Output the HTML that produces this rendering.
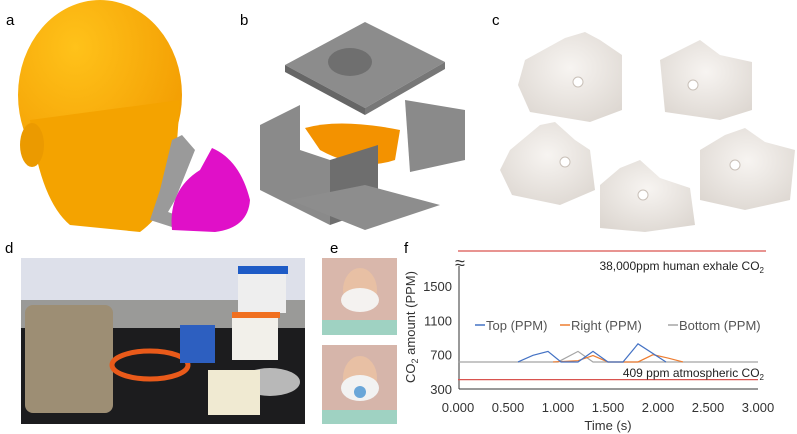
<!DOCTYPE html>
<html><head><meta charset="utf-8"><style>
html,body{margin:0;padding:0;background:#fff;width:797px;height:434px;overflow:hidden}
svg{display:block;font-family:"Liberation Sans",sans-serif}
</style></head><body>
<svg width="797" height="434" viewBox="0 0 797 434">
<defs>
<radialGradient id="hg" cx="0.35" cy="0.25" r="0.8"><stop offset="0" stop-color="#ffc21a"/><stop offset="1" stop-color="#f29a00"/></radialGradient>
<radialGradient id="mg" cx="0.5" cy="0.4" r="0.7"><stop offset="0" stop-color="#f7f4f1"/><stop offset="1" stop-color="#dcd6d0"/></radialGradient>
</defs>
<g>
<text x="6" y="25" font-size="15">a</text>
<ellipse cx="100" cy="95" rx="82" ry="95" fill="url(#hg)"/>
<path d="M30 120 Q40 200 70 225 L140 232 Q170 210 175 170 L180 100 Z" fill="#f4a300"/>
<ellipse cx="32" cy="145" rx="12" ry="22" fill="#eb9a00"/>
<path d="M172 140 L182 135 L195 150 L175 200 L168 212 L190 220 L175 228 L150 220 L160 190 Z" fill="#9a9a9a"/>
<path d="M212 148 Q240 160 250 200 Q248 228 215 232 L172 230 Q168 190 200 170 Z" fill="#e010c8"/>
</g>
<g>
<text x="240" y="25" font-size="15">b</text>
<polygon points="285,65 365,22 445,62 365,108" fill="#8c8c8c"/>
<polygon points="285,65 365,108 365,115 285,72" fill="#666"/><polygon points="365,108 445,62 445,69 365,115" fill="#777"/>
<ellipse cx="350" cy="62" rx="22" ry="14" fill="#6f6f6f"/>
<path d="M305 128 Q340 118 400 130 L395 160 Q360 172 320 150 Z" fill="#f39200"/>
<polygon points="260,125 300,105 300,150 330,160 330,225 260,190" fill="#8a8a8a"/>
<polygon points="330,160 378,145 378,208 330,225" fill="#6e6e6e"/>
<polygon points="405,100 465,110 465,160 410,172" fill="#8a8a8a"/>
<polygon points="290,200 365,185 440,205 365,230" fill="#8d8d8d"/>
</g>
<g>
<text x="492" y="25" font-size="15">c</text>
<g fill="url(#mg)">
<path d="M525 60 L565 38 L585 32 L600 40 L622 55 L622 110 L590 122 L530 112 L518 85 Z"/>
<path d="M660 60 L700 40 L720 55 L752 62 L752 110 L720 120 L665 112 Z"/>
<path d="M510 150 L540 125 L555 122 L575 140 L590 150 L595 190 L560 205 L512 195 L500 170 Z"/>
<path d="M600 185 L620 168 L640 160 L660 178 L690 188 L695 225 L645 232 L600 228 Z"/>
<path d="M700 150 L725 135 L745 128 L765 142 L795 150 L790 200 L745 210 L700 200 Z"/>
</g>
<g fill="#fff" stroke="#c9c0b8"><circle cx="578" cy="82" r="5"/><circle cx="693" cy="85" r="5"/><circle cx="565" cy="162" r="5"/><circle cx="643" cy="195" r="5"/><circle cx="735" cy="165" r="5"/></g>
</g>
<g>
<text x="5" y="253" font-size="15">d</text>
<rect x="21" y="258" width="284" height="166" fill="#1c1c1e"/>
<rect x="21" y="258" width="284" height="42" fill="#dde0ea"/>
<rect x="21" y="300" width="284" height="28" fill="#9a9a98"/>
<rect x="25" y="305" width="88" height="108" rx="8" fill="#9d8e74"/>
<ellipse cx="150" cy="365" rx="38" ry="14" fill="none" stroke="#e95a1a" stroke-width="5"/>
<rect x="180" y="325" width="35" height="38" fill="#2d5fc0"/>
<rect x="238" y="268" width="48" height="45" fill="#eee"/><rect x="238" y="266" width="50" height="8" fill="#1e5bc6"/>
<rect x="232" y="315" width="46" height="45" fill="#f2f0ea"/><rect x="232" y="312" width="48" height="6" fill="#f07020"/>
<ellipse cx="270" cy="382" rx="30" ry="14" fill="#b8b8b8"/>
<rect x="208" y="370" width="52" height="45" fill="#f0ead2"/>
</g>
<g>
<text x="330" y="253" font-size="15">e</text>
<rect x="322" y="258" width="75" height="77" fill="#d9b7ab"/>
<rect x="322" y="345" width="75" height="79" fill="#d6b5aa"/>
<ellipse cx="360" cy="290" rx="17" ry="22" fill="#e8c0a4"/><ellipse cx="360" cy="300" rx="19" ry="12" fill="#f4f2f0"/><rect x="322" y="320" width="75" height="15" fill="#9fd2c2"/>
<ellipse cx="360" cy="378" rx="17" ry="22" fill="#e8c0a4"/><ellipse cx="360" cy="388" rx="19" ry="13" fill="#f2f2f2"/><circle cx="360" cy="392" r="6" fill="#6aa6d8"/><rect x="322" y="410" width="75" height="14" fill="#9fd2c2"/>
</g>
<g id="chart">
<text x="404" y="253" font-size="15">f</text>
</g>
</svg>
<script>
const xTicks=[0,0.5,1,1.5,2,2.5,3];
const yTicks=[300,700,1100,1500];
const seriesNames=["Top (PPM)","Right (PPM)","Bottom (PPM)"];
const seriesColors=["#4472c4","#ed7d31","#a5a5a5"];
const topT=[0.6,0.75,0.9,1.03,1.2,1.35,1.5,1.65,1.8,2.08];
const topV=[615,692,738,615,615,738,615,615,826,615];
const rightT=[0.95,1.2,1.35,1.5,1.8,1.95,2.1,2.25];
const rightV=[615,630,690,615,615,700,660,615];
const bottomT=[0,1.0,1.2,1.35,3.0];
const bottomV=[615,615,738,615,615];
const refLines=[409];
const X=t=>458+t*100;
const Y=v=>389-(v-300)*103/1200;
const NS="http://www.w3.org/2000/svg";
const g=document.getElementById('chart');
function mk(tag,a,txt){const e=document.createElementNS(NS,tag);for(const k in a)e.setAttribute(k,a[k]);if(txt!==undefined)e.textContent=txt;g.appendChild(e);return e;}
let e;
e=mk('line',{x1:458,y1:251,x2:766,y2:251,stroke:'#d9534f','stroke-width':1.2});


e=mk('text',{x:764,y:270,'font-size':12,'text-anchor':'end',fill:'#222'});
e.innerHTML='38,000ppm human exhale CO<tspan font-size="8" dy="3">2</tspan>';


e=mk('line',{x1:459,y1:266,x2:459,y2:389,stroke:'#333','stroke-width':1});


e=mk('text',{x:460,y:269,'font-size':18,'text-anchor':'middle',fill:'#333'},'≈');


e=mk('line',{x1:459,y1:389,x2:758,y2:389,stroke:'#333','stroke-width':1});


yTicks.forEach(v=>{const t=mk('text',{x:452,y:Y(v)+5,'font-size':13,'text-anchor':'end',fill:'#333'},v);

});
xTicks.forEach(v=>{const t=mk('text',{x:X(v),y:412,'font-size':13,'text-anchor':'middle',fill:'#333'},v.toFixed(3));

});
e=mk('text',{x:608,y:430,'font-size':13,'text-anchor':'middle',fill:'#333'},'Time (s)');


e=mk('text',{x:0,y:0,'font-size':13,'text-anchor':'middle',fill:'#333',transform:'translate(415,327) rotate(-90)'});
e.innerHTML='CO<tspan font-size="9" dy="3">2</tspan><tspan dy="-3"> amount (PPM)</tspan>';


refLines.forEach(v=>{const l=mk('line',{x1:458,y1:Y(v),x2:758,y2:Y(v),stroke:'#d9534f','stroke-width':1.2});

});
e=mk('text',{x:764,y:377,'font-size':12,'text-anchor':'end',fill:'#222'});
e.innerHTML='409 ppm atmospheric CO<tspan font-size="8" dy="3">2</tspan>';


const data=[[topT,topV],[rightT,rightV],[bottomT,bottomV]];
[2,1,0].forEach(i=>{const [ts,vs]=data[i];const p=mk('polyline',{points:ts.map((t,j)=>X(t)+','+Y(vs[j])).join(' '),fill:'none',stroke:seriesColors[i],'stroke-width':1.2});

});
const lx=[475,560,668];
seriesNames.forEach((n,i)=>{const l=mk('line',{x1:lx[i],y1:325,x2:lx[i]+10,y2:325,stroke:seriesColors[i],'stroke-width':1.5});


const t=mk('text',{x:lx[i]+11,y:330,'font-size':13,fill:'#555'},n);

});
</script>
</body></html>
